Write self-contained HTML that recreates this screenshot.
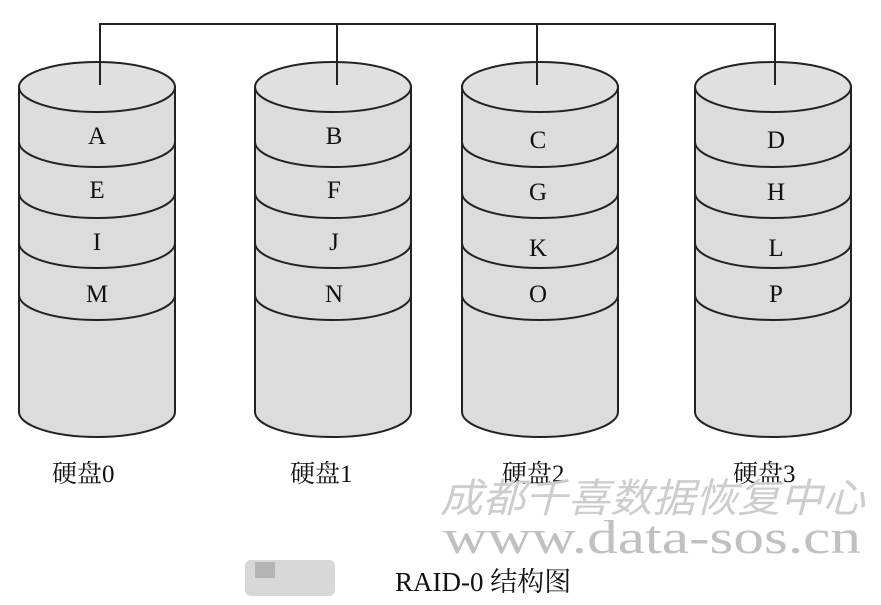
<!DOCTYPE html>
<html><head><meta charset="utf-8"><style>
html,body{margin:0;padding:0;background:#fff;}
svg{display:block;}
</style></head><body>
<svg width="881" height="605" viewBox="0 0 881 605" xmlns="http://www.w3.org/2000/svg">
<defs>
<g id="cyl">
<path d="M0,87 L0,412 A78,25 0 0 0 156,412 L156,87 Z" fill="#dcdcdc" stroke="#222" stroke-width="2"/>
<ellipse cx="78" cy="87" rx="78" ry="25" fill="#e0e0e0" stroke="#222" stroke-width="2"/>
<path d="M0,142 A78,25 0 0 0 156,142 M0,193 A78,25 0 0 0 156,193 M0,243 A78,25 0 0 0 156,243 M0,295 A78,25 0 0 0 156,295" fill="none" stroke="#222" stroke-width="2"/>
</g>
</defs>
<use href="#cyl" x="19" y="0"/>
<use href="#cyl" x="255" y="0"/>
<use href="#cyl" x="462" y="0"/>
<use href="#cyl" x="695" y="0"/>
<path d="M100,85 L100,24 L775,24 L775,85 M337,24 L337,85 M537,24 L537,85" fill="none" stroke="#222" stroke-width="2"/>
<g font-family="Liberation Serif, serif" font-size="25" fill="#111" text-anchor="middle">
<text x="97" y="144">A</text><text x="97" y="198">E</text><text x="97" y="250">I</text><text x="97" y="302">M</text>
<text x="334" y="144">B</text><text x="334" y="198">F</text><text x="334" y="250">J</text><text x="334" y="302">N</text>
<text x="538" y="148">C</text><text x="538" y="200">G</text><text x="538" y="256">K</text><text x="538" y="302">O</text>
<text x="776" y="148">D</text><text x="776" y="200">H</text><text x="776" y="256">L</text><text x="776" y="302">P</text>
</g>
<g font-family="Liberation Serif, 'Noto Serif CJK SC', serif" font-size="25" fill="#111">
<text x="52" y="482">硬盘0</text>
<text x="290" y="482">硬盘1</text>
<text x="502" y="482">硬盘2</text>
<text x="733" y="482">硬盘3</text>
</g>
<text x="440" y="512" font-family="'Noto Sans CJK SC', sans-serif" font-size="40" font-style="italic" fill="#cdcdcd" textLength="425" lengthAdjust="spacingAndGlyphs">成都千喜数据恢复中心</text>
<text x="443" y="553" font-family="Liberation Serif, serif" font-size="48" fill="#c0c0c0" textLength="418" lengthAdjust="spacingAndGlyphs">www.data-sos.cn</text>
<rect x="245" y="560" width="90" height="36" rx="6" fill="#d8d8d8"/>
<rect x="255" y="562" width="20" height="16" fill="#b4b4b4"/>
<text x="395" y="591" font-family="Liberation Serif, 'Noto Serif CJK SC', serif" font-size="27" fill="#111">RAID-0 结构图</text>
</svg>
</body></html>
